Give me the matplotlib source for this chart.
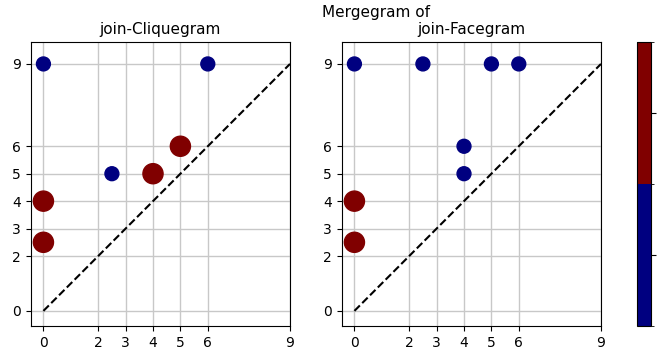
import matplotlib
matplotlib.use("Agg")
import matplotlib.pyplot as plt
from matplotlib.colors import ListedColormap, BoundaryNorm
from matplotlib.cm import ScalarMappable

# merge points (birth, death) and their class (1 = blue, 2 = red)
clique_x = [0, 6, 2.5, 4, 5, 0, 0]
clique_y = [9, 9, 5, 5, 6, 4, 2.5]
clique_c = [1, 1, 1, 2, 2, 2, 2]

face_x = [0, 2.5, 5, 6, 4, 4, 0, 0]
face_y = [9, 9, 9, 9, 6, 5, 4, 2.5]
face_c = [1, 1, 1, 1, 1, 1, 2, 2]

ticks = [0, 2, 3, 4, 5, 6, 9]
titles = ["join-Cliquegram", "join-Facegram"]

cmap = ListedColormap(["#000080", "#800000"])
norm = BoundaryNorm([0.5, 1.5, 2.5], cmap.N)
sizes = {1: 100, 2: 210}

fig = plt.figure(figsize=(6.61, 3.49), dpi=100)
ax1 = fig.add_axes([0.0462, 0.0659, 0.3925, 0.8138])
ax2 = fig.add_axes([0.5167, 0.0659, 0.3925, 0.8138])
cax = fig.add_axes([0.9637, 0.0659, 0.0212, 0.8138])

for ax, xs, ys, cs, title in [(ax1, clique_x, clique_y, clique_c, titles[0]),
                              (ax2, face_x, face_y, face_c, titles[1])]:
    ax.grid(True, color="#c8c8c8", linewidth=1.0, zorder=0)
    ax.plot([0, 9], [0, 9], "k--", zorder=2)
    ax.scatter(xs, ys, c=cs, cmap=cmap, norm=norm,
               s=[sizes[c] for c in cs], zorder=3)
    ax.set_xticks(ticks)
    ax.set_yticks(ticks)
    ax.set_xlim(-0.47, 9)
    ax.set_ylim(-0.55, 9.8)
    ax.set_title(title, fontsize=11)
    ax.set_axisbelow(True)

cb = fig.colorbar(ScalarMappable(norm=norm, cmap=cmap), cax=cax, ticks=[1, 2])
cb.ax.set_yticklabels(["1", "2"])

fig.text(376 / 661, 1 - 12 / 349, "Mergegram of", ha="center", va="center",
         fontsize=11)

fig.savefig("out.png", dpi=100)
